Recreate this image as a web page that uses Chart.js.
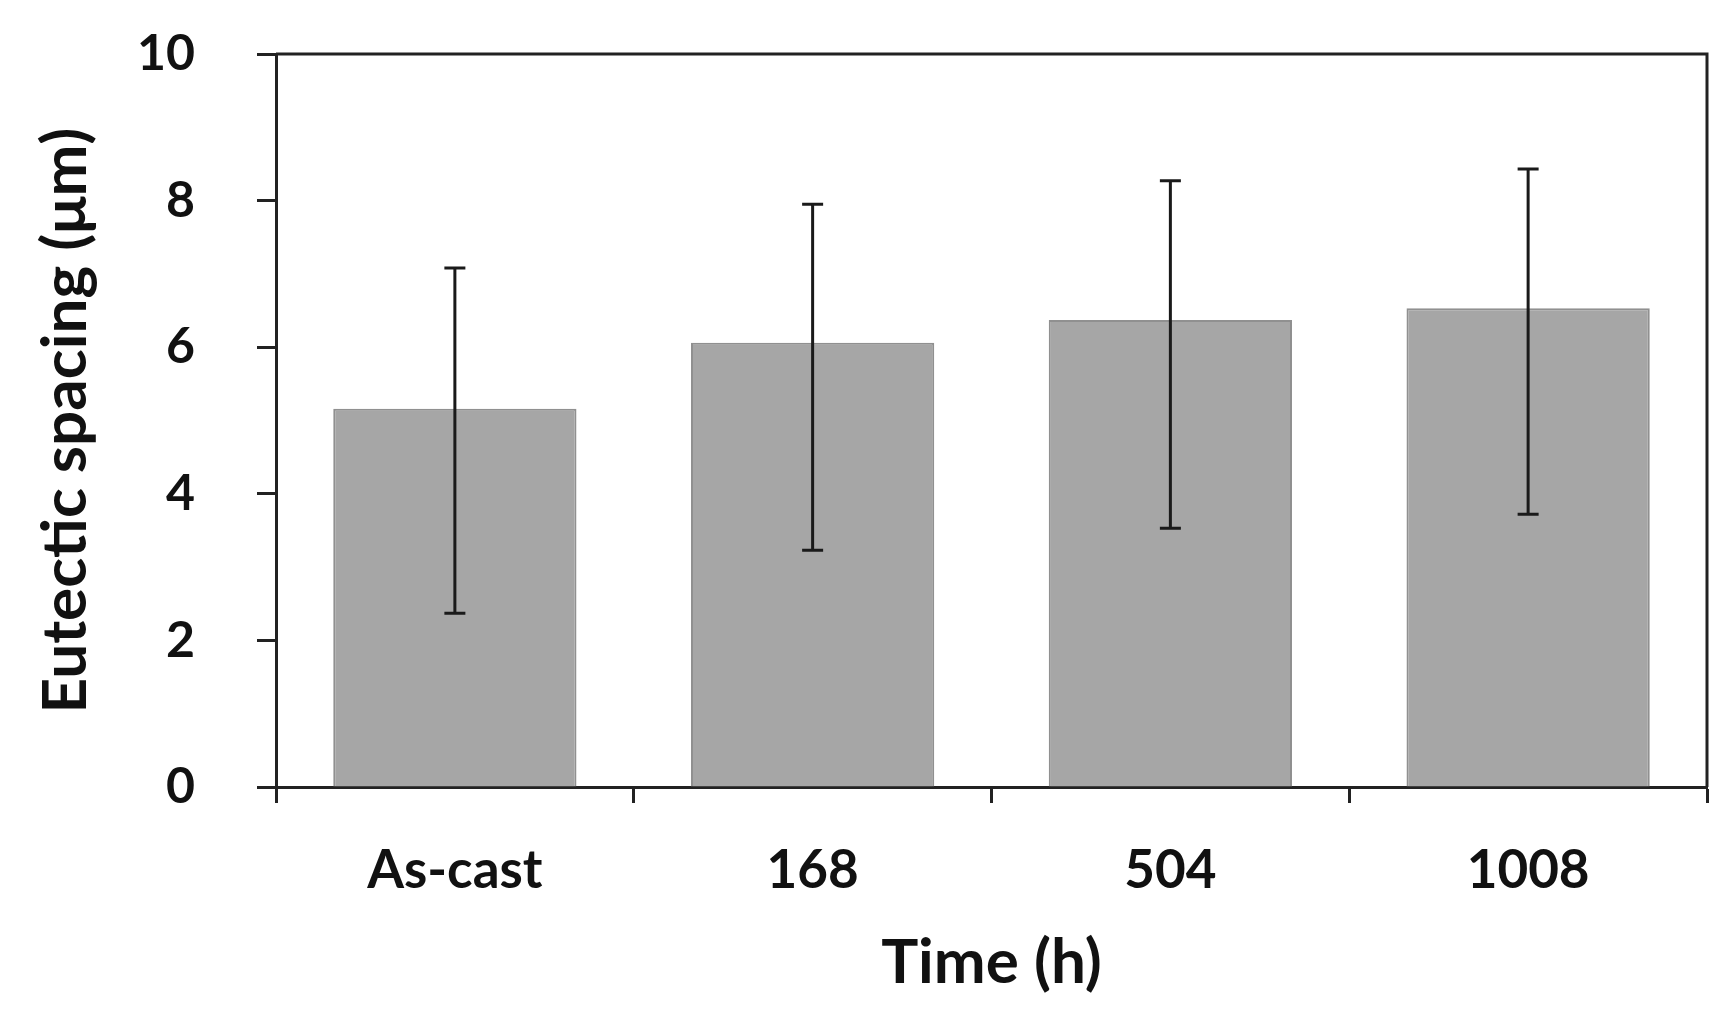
<!DOCTYPE html>
<html>
<head>
<meta charset="utf-8">
<script src="https://cdn.jsdelivr.net/npm/chart.js@4"></script>
<style>
  html, body { margin: 0; padding: 0; background: #fff; }
  #wrap { width: 1732px; height: 1016px; }
</style>
</head>
<body>
<div id="wrap"><canvas id="c" width="1732" height="1016"></canvas></div>
<script>
const categories = ['As-cast', '168', '504', '1008'];
const meanSpacing = [5.16, 6.06, 6.37, 6.53];
const errorLower = [2.37, 3.23, 3.53, 3.72];
const errorUpper = [7.08, 7.95, 8.27, 8.43];
const yTicks = [0, 2, 4, 6, 8, 10];

const FONT = 'Lato, "Open Sans", sans-serif';

const errorBars = {
  id: 'errorBars',
  afterDatasetsDraw(chart) {
    const ctx = chart.ctx;
    const y = chart.scales.y;
    const meta = chart.getDatasetMeta(0);
    ctx.save();
    ctx.strokeStyle = '#1a1a1a';
    ctx.lineWidth = 3;
    meta.data.forEach((bar, i) => {
      const x = bar.x;
      const yl = y.getPixelForValue(errorLower[i]);
      const yu = y.getPixelForValue(errorUpper[i]);
      ctx.beginPath();
      ctx.moveTo(x, yl); ctx.lineTo(x, yu);
      ctx.moveTo(x - 10.5, yl); ctx.lineTo(x + 10.5, yl);
      ctx.moveTo(x - 10.5, yu); ctx.lineTo(x + 10.5, yu);
      ctx.stroke();
    });
    ctx.restore();
  }
};

const frame = {
  id: 'frame',
  afterDraw(chart) {
    const a = chart.chartArea;
    const ctx = chart.ctx;
    ctx.save();
    ctx.strokeStyle = '#222';
    ctx.lineWidth = 3;
    ctx.beginPath();
    ctx.moveTo(a.left, a.top);
    ctx.lineTo(a.right, a.top);
    ctx.lineTo(a.right, a.bottom);
    ctx.stroke();
    ctx.restore();
  }
};

new Chart(document.getElementById('c'), {
  type: 'bar',
  data: {
    labels: categories,
    datasets: [{
      data: meanSpacing,
      backgroundColor: '#a6a6a6',
      borderColor: '#909090',
      borderWidth: 2,
      categoryPercentage: 1.0,
      barPercentage: 0.68
    }]
  },
  options: {
    responsive: false,
    animation: false,
    devicePixelRatio: 1,
    layout: { padding: { top: 54, right: 25, left: 0, bottom: 0 } },
    plugins: { legend: { display: false }, tooltip: { enabled: false } },
    scales: {
      x: {
        grid: { display: true, drawOnChartArea: false, drawTicks: true, tickLength: 16, tickWidth: 3, tickColor: '#222', offset: true },
        border: { display: true, color: '#222', width: 3 },
        ticks: { color: '#111', font: { family: FONT, size: 53, weight: 'bold' }, padding: 36 },
        title: { display: true, text: 'Time (h)', color: '#111', font: { family: FONT, size: 62, weight: 'bold' }, padding: { top: 0, bottom: 16 } },
        afterFit(s) { s.height = 229; s.paddingLeft = 0; s.paddingRight = 0; }
      },
      y: {
        min: 0, max: 10,
        afterBuildTicks(s) { s.ticks = yTicks.map(v => ({ value: v })); },
        grid: { display: true, drawOnChartArea: false, drawTicks: true, tickLength: 19, tickWidth: 3, tickColor: '#222' },
        border: { display: true, color: '#222', width: 3 },
        ticks: { color: '#111', font: { family: FONT, size: 50, weight: 'bold' }, padding: 62 },
        title: { display: true, text: 'Eutectic spacing (μm)', color: '#111', font: { family: FONT, size: 62, weight: 'bold' }, padding: { top: 29, bottom: 0 } },
        afterFit(s) { s.width = 276; s.paddingTop = 0; s.paddingBottom = 0; }
      }
    }
  },
  plugins: [errorBars, frame]
});
</script>
</body>
</html>
